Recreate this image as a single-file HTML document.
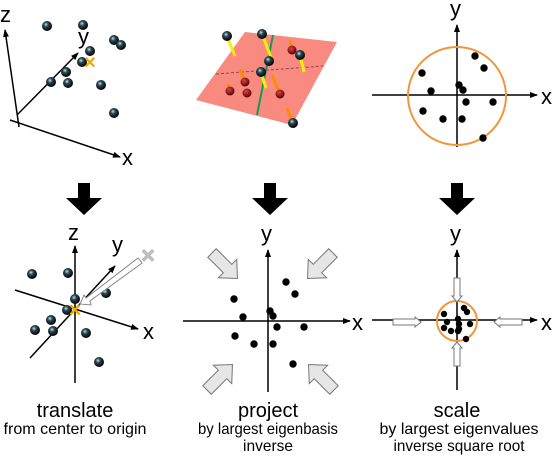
<!DOCTYPE html>
<html><head><meta charset="utf-8"><style>
html,body{margin:0;padding:0;background:#fff;}
svg{display:block;font-family:"Liberation Sans",sans-serif;}
</style></head><body>
<svg id="fig" width="553" height="463" viewBox="0 0 553 463">
<defs>
<radialGradient id="sph" cx="0.4" cy="0.35" r="0.65">
<stop offset="0" stop-color="#9fd"/><stop offset="0.35" stop-color="#345"/><stop offset="1" stop-color="#000"/>
</radialGradient>
<radialGradient id="rsph" cx="0.4" cy="0.35" r="0.65">
<stop offset="0" stop-color="#d44"/><stop offset="1" stop-color="#500"/>
</radialGradient>
<marker id="ah" markerWidth="8" markerHeight="8" refX="7" refY="4" orient="auto" markerUnits="userSpaceOnUse">
<path d="M0,1 L8,4 L0,7 z" fill="#000"/></marker>
</defs>

<g>
<line x1="19" y1="127" x2="5" y2="30" stroke="#000" stroke-width="1.5" marker-end="url(#ah)"/>
<line x1="10" y1="120" x2="120" y2="157" stroke="#000" stroke-width="1.5" marker-end="url(#ah)"/>
<line x1="17" y1="115" x2="78" y2="53" stroke="#000" stroke-width="1.5" marker-end="url(#ah)"/>
<text x="0" y="22" font-size="22">z</text>
<text x="78" y="44" font-size="22">y</text>
<text x="122" y="165" font-size="22">x</text>
<g id="p1pts"></g>
<text x="90" y="68" font-size="16" font-weight="bold" fill="#f0a800" text-anchor="middle">✕</text>
</g>

<g>
<polygon points="245,32 337,42 292,125 196,100" fill="#f98a80"/>
<line x1="273" y1="35" x2="257" y2="115" stroke="#1a9a50" stroke-width="2"/>
<line x1="216" y1="74" x2="323" y2="66" stroke="#8a4a4a" stroke-width="1" stroke-dasharray="3,2"/>
<g id="p2bars"></g>
<g id="p2pts"></g>
</g>

<g>
<line x1="372" y1="95" x2="537" y2="95" stroke="#000" stroke-width="1.5" marker-end="url(#ah)"/>
<line x1="457" y1="147" x2="457" y2="25" stroke="#000" stroke-width="1.5" marker-end="url(#ah)"/>
<circle cx="457" cy="96" r="49" fill="none" stroke="#f0963c" stroke-width="2"/>
<text x="541" y="104" font-size="22">x</text>
<text x="450" y="16" font-size="22">y</text>
<g id="p3pts"></g>
</g>

<g fill="#000">
<path d="M78,183 H90 V198 H102 L84,215 L66,198 H78 Z"/>
<path d="M264,183 H276 V198 H288 L270,215 L252,198 H264 Z"/>
<path d="M451,183 H463 V198 H475 L457,215 L439,198 H451 Z"/>
</g>

<g>
<line x1="75" y1="383" x2="75" y2="246" stroke="#000" stroke-width="1.5" marker-end="url(#ah)"/>
<line x1="15" y1="290" x2="138" y2="329" stroke="#000" stroke-width="1.5" marker-end="url(#ah)"/>
<line x1="30" y1="358" x2="115" y2="266" stroke="#000" stroke-width="1.5" marker-end="url(#ah)"/>
<text x="68" y="240" font-size="22">z</text>
<text x="112" y="252" font-size="22">y</text>
<text x="143" y="339" font-size="22">x</text>
<g id="p4pts"></g>
<path d="M138,258 L142,263 L90,301 L91,305 L80,304 L84,295 L86,298 Z" fill="#fff" stroke="#888" stroke-width="1"/>
<text x="148" y="262" font-size="18" font-weight="bold" fill="#fff" stroke="#bbb" stroke-width="1" text-anchor="middle">✕</text>
<text x="75" y="316" font-size="17" font-weight="bold" fill="#f0a800" text-anchor="middle">✕</text>
</g>

<g>
<line x1="183" y1="321" x2="350" y2="321" stroke="#000" stroke-width="1.5" marker-end="url(#ah)"/>
<line x1="268" y1="392" x2="268" y2="250" stroke="#000" stroke-width="1.5" marker-end="url(#ah)"/>
<text x="352" y="330" font-size="22">x</text>
<text x="261" y="241" font-size="22">y</text>
<g fill="#e6e6e6" stroke="#777" stroke-width="1">
<path d="M0,-6 H22 V-13 L36,0 L22,13 V6 H0 Z" transform="translate(212,253) rotate(45)"/>
<path d="M0,-6 H22 V-13 L36,0 L22,13 V6 H0 Z" transform="translate(333,253) rotate(135)"/>
<path d="M0,-6 H22 V-13 L36,0 L22,13 V6 H0 Z" transform="translate(207,390) rotate(-45)"/>
<path d="M0,-6 H22 V-13 L36,0 L22,13 V6 H0 Z" transform="translate(334,390) rotate(-135)"/>
</g>
<g id="p5pts"></g>
</g>

<g>
<line x1="372" y1="320" x2="537" y2="320" stroke="#000" stroke-width="1.5" marker-end="url(#ah)"/>
<line x1="457" y1="390" x2="457" y2="250" stroke="#000" stroke-width="1.5" marker-end="url(#ah)"/>
<text x="541" y="330" font-size="22">x</text>
<text x="450" y="241" font-size="22">y</text>
<circle cx="457" cy="321" r="20" fill="none" stroke="#f0963c" stroke-width="2"/>
<g fill="#fff" stroke="#777" stroke-width="1">
<path d="M0,-3 H22 V-5 L28,0 L22,5 V3 H0 Z" transform="translate(393,322)"/>
<path d="M0,-3 H22 V-5 L28,0 L22,5 V3 H0 Z" transform="translate(522,322) rotate(180)"/>
<path d="M0,-3 H18 V-5 L24,0 L18,5 V3 H0 Z" transform="translate(457,278) rotate(90)"/>
<path d="M0,-3 H18 V-5 L24,0 L18,5 V3 H0 Z" transform="translate(457,366) rotate(-90)"/>
</g>
<g id="p6pts"></g>
</g>

<g text-anchor="middle" fill="#000">
<text x="75" y="417" font-size="20">translate</text>
<text x="75" y="434" font-size="16" textLength="143" lengthAdjust="spacingAndGlyphs">from center to origin</text>
<text x="268" y="417" font-size="20">project</text>
<text x="268" y="434" font-size="16" textLength="140" lengthAdjust="spacingAndGlyphs">by largest eigenbasis</text>
<text x="268" y="451" font-size="16" textLength="50" lengthAdjust="spacingAndGlyphs">inverse</text>
<text x="457" y="417" font-size="20">scale</text>
<text x="459" y="434" font-size="16" textLength="159" lengthAdjust="spacingAndGlyphs">by largest eigenvalues</text>
<text x="459" y="451" font-size="16" textLength="131" lengthAdjust="spacingAndGlyphs">inverse square root</text>
</g>
</svg>
<script>
const p1X=[47,83,90,82,66,51,68,101,114,121,114];
const p1Y=[26,25,51,62,72,82,83,85,40,45,113];
const p2BlackX=[227,262,300,269,261,293];
const p2BlackY=[36,34,55,61,72,123];
const p2RedX=[292,245,230,247,280];
const p2RedY=[50,82,91,93,94];
const p2YellowX1=[227,262,300,261];
const p2YellowY1=[36,34,55,72];
const p2YellowX2=[235,272,304,266];
const p2YellowY2=[56,60,72,88];
const p2OrangeX1=[290,240,228,272,287];
const p2OrangeY1=[40,69,84,75,108];
const p2OrangeX2=[292,245,230,280,293];
const p2OrangeY2=[50,82,91,94,123];
const p3X=[18,27,-35,-26,2,6,9,36,-34,-14,5,26];
const p3Y=[39,27,22,4,10,5,-7,-7,-16,-24,-24,-43];
const p4X=[32,68,106,75,67,51,35,53,86,99];
const p4Y=[274,273,293,299,310,320,330,331,333,362];
const p5X=[-34,-25,18,27,2,5,9,36,-33,-14,5,25];
const p5Y=[22,4,39,27,10,5,-6,-6,-15,-23,-23,-43];
const p6X=[-13,-10,-13,-6,1,2,1,7,10,13,9,2];
const p6Y=[7,-1,-7,-10,2,-3,-10,13,9,-3,-18,-8];
const NS="http://www.w3.org/2000/svg";
function mk(tag,parent,attrs){const e=document.createElementNS(NS,tag);for(const k in attrs)e.setAttribute(k,attrs[k]);parent.appendChild(e);return e;}
function sx(o,v){return o+v;}
function syUp(o,v){return o-v;}
const g1=document.getElementById('p1pts');
p1X.forEach((x,i)=>{const c=mk('circle',g1,{cx:x,cy:p1Y[i],r:5,fill:'url(#sph)'});

});
const gb=document.getElementById('p2bars');
p2OrangeX1.forEach((x,i)=>{const l=mk('line',gb,{x1:x,y1:p2OrangeY1[i],x2:p2OrangeX2[i],y2:p2OrangeY2[i],stroke:'#ff8c00','stroke-width':3});

});
p2YellowX1.forEach((x,i)=>{const l=mk('line',gb,{x1:x,y1:p2YellowY1[i],x2:p2YellowX2[i],y2:p2YellowY2[i],stroke:'#f5f000','stroke-width':3});

});
const g2=document.getElementById('p2pts');
p2RedX.forEach((x,i)=>{const c=mk('circle',g2,{cx:x,cy:p2RedY[i],r:4.5,fill:'url(#rsph)'});

});
p2BlackX.forEach((x,i)=>{const c=mk('circle',g2,{cx:x,cy:p2BlackY[i],r:5,fill:'url(#sph)'});

});
const g3=document.getElementById('p3pts');
p3X.forEach((x,i)=>{const c=mk('circle',g3,{cx:sx(457,x),cy:syUp(95,p3Y[i]),r:3.7,fill:'#000'});

});
const g4=document.getElementById('p4pts');
p4X.forEach((x,i)=>{const c=mk('circle',g4,{cx:x,cy:p4Y[i],r:5,fill:'url(#sph)'});

});
const g5=document.getElementById('p5pts');
p5X.forEach((x,i)=>{const c=mk('circle',g5,{cx:sx(268,x),cy:syUp(321,p5Y[i]),r:3.7,fill:'#000'});

});
const g6=document.getElementById('p6pts');
p6X.forEach((x,i)=>{const c=mk('circle',g6,{cx:sx(457,x),cy:syUp(321,p6Y[i]),r:3.2,fill:'#000'});

});
</script>
</body></html>
